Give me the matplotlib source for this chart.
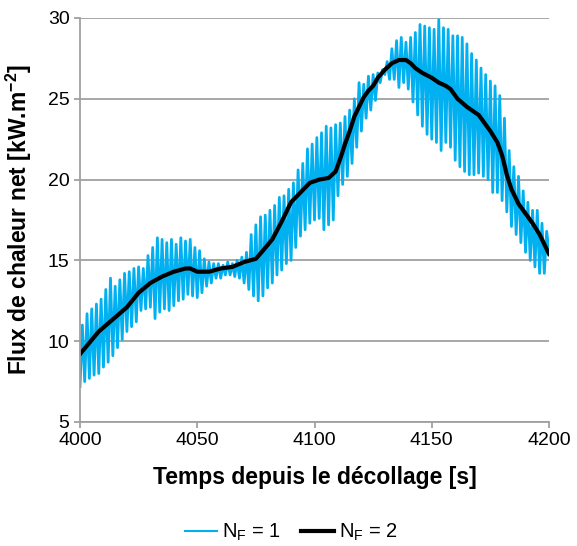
import numpy as np
import matplotlib
matplotlib.use("Agg")
from matplotlib import pyplot as plt

plt.rcParams['font.family'] = ['Liberation Sans', 'DejaVu Sans']
plt.rcParams['mathtext.fontset'] = 'custom'
plt.rcParams['mathtext.rm'] = 'Liberation Sans'
plt.rcParams['mathtext.bf'] = 'Liberation Sans:bold'
plt.rcParams['mathtext.default'] = 'regular'

# N_F = 1 : oscillating signal, troughs at even seconds, peaks at odd seconds
t_low = np.arange(4000, 4201, 2)
nf1_low = [7.2, 7.5, 7.7, 7.9, 8.0, 8.4, 8.7, 9.1, 9.6, 10.1,
           10.6, 10.9, 11.2, 11.9, 12.0, 12.1, 11.4, 11.8, 12.0, 11.9,
           12.2, 12.5, 12.6, 12.9, 12.8, 12.7, 13.0, 13.4, 13.6, 13.9,
           13.9, 14.1, 14.1, 14.0, 13.9, 13.6, 13.2, 12.8, 12.5, 12.8,
           13.3, 13.6, 14.1, 14.4, 14.8, 15.0, 15.8, 16.5, 16.9, 17.3,
           17.5, 17.6, 16.9, 17.2, 17.5, 19.0, 19.7, 20.2, 21.0, 22.0,
           23.0, 23.8, 24.3, 24.9, 26.0, 26.5, 26.2, 26.2, 25.7, 26.0,
           25.6, 24.8, 24.0, 23.3, 22.8, 22.5, 22.3, 21.8, 22.3, 22.0,
           21.2, 20.8, 20.5, 20.3, 20.3, 20.4, 20.2, 20.0, 19.2, 19.2,
           18.7, 18.0, 17.1, 16.6, 16.1, 15.5, 15.0, 14.6, 14.2, 14.2,
           15.6]
t_high = np.arange(4001, 4200, 2)
nf1_high = [11.0, 11.7, 12.0, 12.3, 12.6, 13.2, 13.9, 13.4, 13.8, 14.2,
            14.3, 14.5, 14.6, 14.5, 15.3, 15.8, 16.4, 16.3, 16.1, 16.3,
            16.0, 16.4, 16.2, 16.3, 15.8, 15.6, 15.1, 14.9, 14.8, 14.8,
            14.7, 14.9, 14.8, 15.0, 15.2, 15.5, 16.6, 17.2, 17.7, 17.8,
            18.1, 18.4, 18.9, 19.0, 19.4, 19.8, 20.6, 21.0, 21.9, 22.2,
            22.6, 22.9, 23.3, 23.2, 23.4, 23.5, 23.9, 24.3, 25.0, 26.0,
            25.9, 26.4, 26.5, 26.6, 26.8, 27.3, 28.1, 28.6, 28.8, 28.5,
            28.8, 29.1, 29.6, 29.5, 29.4, 29.3, 29.9, 29.4, 29.3, 28.9,
            28.9, 28.8, 28.4, 27.8, 27.4, 26.9, 26.5, 26.1, 25.8, 25.2,
            23.8, 21.8, 20.8, 20.2, 19.3, 18.6, 18.1, 18.1, 17.3, 16.8]

# N_F = 2 : smooth signal
t_nf2 = [4000, 4004, 4008, 4012, 4016, 4020, 4025, 4030, 4035, 4040,
         4045, 4047, 4050, 4055, 4060, 4065, 4070, 4075, 4078, 4082,
         4086, 4090, 4094, 4098, 4102, 4106, 4109, 4111, 4113, 4115,
         4117, 4119, 4121, 4123, 4125, 4127, 4130, 4133, 4136, 4139,
         4141, 4143, 4146, 4150, 4153, 4156, 4158, 4161, 4165, 4170,
         4175, 4178, 4180, 4182, 4184, 4187, 4190, 4193, 4196, 4200]
nf2 = [9.2, 9.9, 10.6, 11.1, 11.6, 12.1, 13.0, 13.6, 14.0, 14.3,
       14.5, 14.5, 14.3, 14.3, 14.5, 14.6, 14.9, 15.1, 15.6, 16.3,
       17.4, 18.6, 19.2, 19.8, 20.0, 20.1, 20.5, 21.3, 22.2, 23.0,
       23.9, 24.5, 25.1, 25.5, 25.8, 26.3, 26.8, 27.2, 27.4, 27.4,
       27.2, 26.9, 26.6, 26.3, 26.0, 25.8, 25.6, 25.0, 24.5, 24.0,
       23.0, 22.3, 21.5, 20.3, 19.4, 18.5, 17.9, 17.3, 16.6, 15.4]

# interleave troughs and peaks
t_nf1 = np.empty(len(t_low) + len(t_high))
y_nf1 = np.empty(len(t_low) + len(t_high))
t_nf1[0::2] = t_low
t_nf1[1::2] = t_high
y_nf1[0::2] = nf1_low
y_nf1[1::2] = nf1_high

fig = plt.figure(figsize=(5.77, 5.46), dpi=100)
ax = fig.add_axes([80 / 577, 1 - 422 / 546, 469 / 577, 404 / 546])

ax.plot(t_nf1, y_nf1, color='#00B0F0', lw=2, label=r'N$_F$ = 1')
ax.plot(t_nf2, nf2, color='black', lw=3, label=r'N$_F$ = 2')

ax.set_xlim(4000, 4200)
ax.set_ylim(5, 30)
ax.set_xticks([4000, 4050, 4100, 4150, 4200])
ax.set_yticks([5, 10, 15, 20, 25, 30])
ax.yaxis.grid(True, color='#a0a0a0', lw=1.3)
ax.set_axisbelow(True)
for s in ['top', 'right']:
    ax.spines[s].set_visible(False)
for s in ['left', 'bottom']:
    ax.spines[s].set_color('#a0a0a0')
    ax.spines[s].set_linewidth(1.3)
ax.tick_params(colors='#a0a0a0', labelcolor='black', labelsize=14, length=4, width=1.3)

ax.set_xlabel('Temps depuis le décollage [s]', fontsize=16.5, fontweight='bold', labelpad=12)
ax.set_ylabel(r'Flux de chaleur net [kW.m$\mathbf{^{-2}}$]', fontsize=16.5, fontweight='bold', labelpad=10)

leg = fig.legend(loc='lower center', bbox_to_anchor=(0.505, -0.028), ncol=2, frameon=False,
                 fontsize=14.5, handlelength=1.6, columnspacing=1.0, handletextpad=0.25)
leg.get_lines()[0].set_linewidth(1.5)

fig.savefig('out.png', dpi=100)
